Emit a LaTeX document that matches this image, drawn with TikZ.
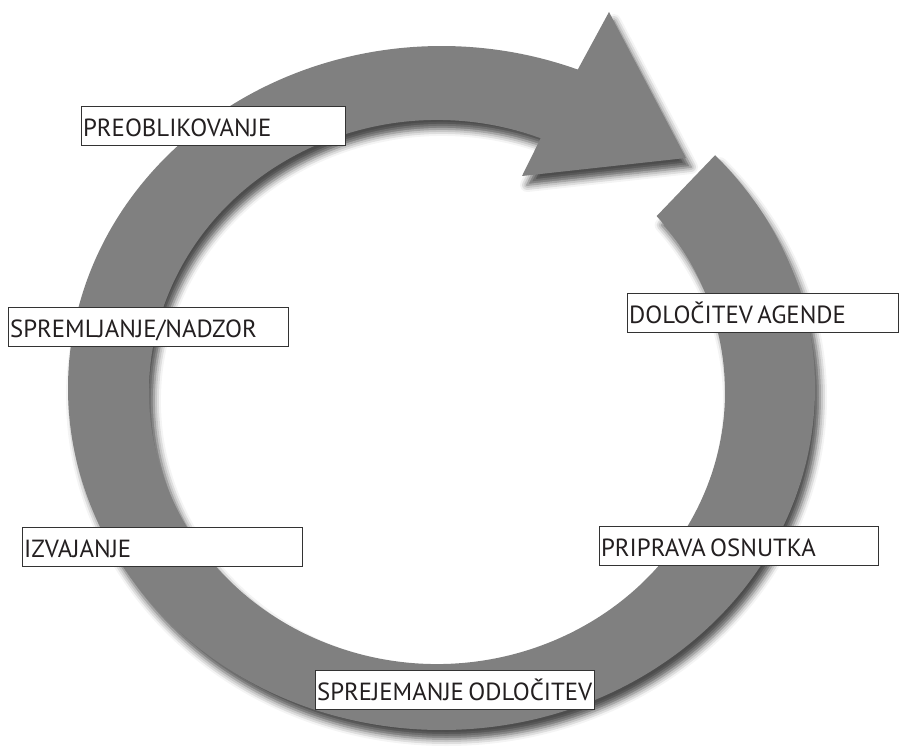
\documentclass[tikz,border=0pt]{standalone}
\usepackage{fontspec}
\setmainfont{PT Sans}
\usetikzlibrary{calc,shadows.blur}
\definecolor{ringgray}{HTML}{808080}
\definecolor{boxline}{HTML}{333333}
\definecolor{txt}{HTML}{231F20}
\newcommand\lblspace{\spaceskip=0.18em\relax}
\tikzset{
  lbl/.style={draw=boxline, line width=1.2pt, fill=white, anchor=north west,
    inner xsep=1.5pt, inner ysep=0pt, text width=#1, align=left,
    minimum height=39pt, text height=20pt, text depth=0pt,
    font=\fontsize{24.8}{28}\selectfont, text=txt,
    execute at begin node=\lblspace},
  ring/.style={fill=ringgray, blur shadow={shadow xshift=5pt, shadow yshift=-9pt,
    shadow blur radius=7pt, shadow opacity=70}}
}
\begin{document}
\begin{tikzpicture}[x=1pt,y=-1pt]
\useasboundingbox (0,0) rectangle (899,752);
\path[ring] (441.5,388) ++(-42.9:373.5 and 342)
  arc[start angle=-42.9, end angle=291.4, x radius=373.5, y radius=342]
  -- (609,12) -- (686,158) -- (522,176)
  -- ($(437,392)+(291.1:288 and 272)$)
  arc[start angle=291.1, end angle=-40.3, x radius=288, y radius=272]
  -- cycle;
\node[lbl=261pt] (pre) at (81,106) {\mbox{PREOBLIKOVANJE}};
\node[lbl=268pt] (dol) at (627,293) {\mbox{DOLOČITEV AGENDE}};
\node[lbl=277pt] (spr) at (8,307) {\mbox{SPREMLJANJE/NADZOR}};
\node[lbl=277pt] (izv) at (22,527) {\mbox{IZVAJANJE}};
\node[lbl=276pt] (pri) at (599,526) {\mbox{PRIPRAVA OSNUTKA}};
\node[lbl=276pt] (odl) at (315,670) {\mbox{SPREJEMANJE ODLOČITEV}};
\end{tikzpicture}
\end{document}
